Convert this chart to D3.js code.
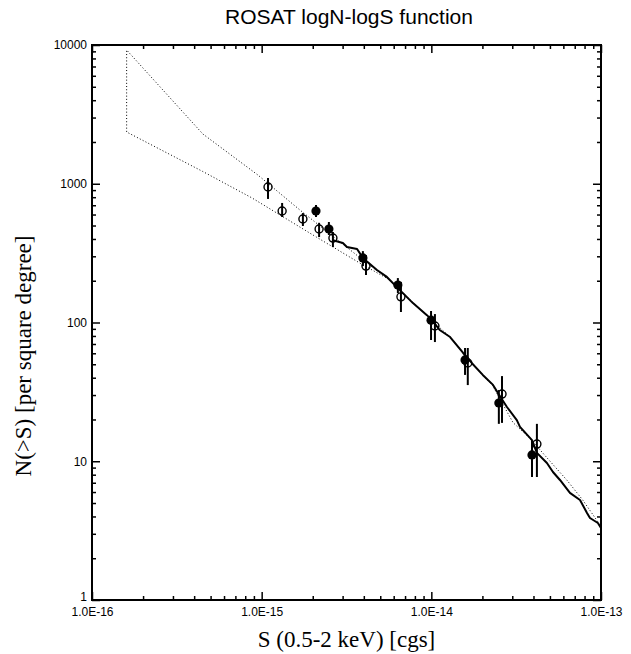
<!DOCTYPE html>
<html><head><meta charset="utf-8">
<script src="https://cdn.jsdelivr.net/npm/d3@7"></script>
<style>body{margin:0;background:#fff}svg{display:block}</style>
</head><body>
<svg id="c" width="631" height="654"></svg>
<script>
// ---- data ----
const xMajorTicks = [1e-16, 1e-15, 1e-14, 1e-13];
const yMajorTicks = [1, 10, 100, 1000, 10000];
const xTickLabels = ["1.0E-16", "1.0E-15", "1.0E-14", "1.0E-13"];
const yTickLabels = ["1", "10", "100", "1000", "10000"];

// open circles (survey 1)
const openS  = [1.09e-15, 1.32e-15, 1.75e-15, 2.18e-15, 2.63e-15, 4.12e-15, 6.62e-15, 1.05e-14, 1.64e-14, 2.61e-14, 4.19e-14];
const openN  = [948, 636, 557, 472, 406, 255, 153, 94.4, 51.1, 30.5, 13.3];
const openLo = [777, 576, 496, 413, 350, 220, 119, 72.3, 35.4, 18.9, 7.7];
const openHi = [1100, 727, 615, 523, 449, 306, 196, 115, 65.5, 41.1, 18.6];

// filled circles (survey 2)
const fillS  = [2.09e-15, 2.49e-15, 3.95e-15, 6.35e-15, 9.96e-15, 1.58e-14, 2.50e-14, 3.92e-14];
const fillN  = [636, 472, 292, 186, 104, 53.7, 26.3, 11.1];
const fillLo = [576, 427, 255, 163, 74.8, 41.9, 18.6, 7.7];
const fillHi = [703, 530, 327, 209, 121, 65.5, 32.6, 14.2];

// solid logN-logS curve
const curveS = [2.60e-15, 3.01e-15, 3.18e-15, 3.65e-15, 3.95e-15, 4.78e-15, 5.47e-15, 6.26e-15, 7.48e-15, 7.79e-15, 9.42e-15, 1.01e-14, 1.12e-14, 1.29e-14, 1.54e-14, 1.73e-14, 2.01e-14, 2.31e-14, 2.47e-14, 2.79e-14, 3.19e-14, 3.33e-14, 3.92e-14, 4.19e-14, 4.80e-14, 5.21e-14, 5.73e-14, 6.56e-14, 7.52e-14, 8.27e-14, 8.61e-14, 9.59e-14, 1.0e-13];
const curveN = [393, 374, 350, 339, 292, 239, 213, 180, 145, 138, 113, 104, 88.3, 78.6, 60.3, 51.1, 41.9, 35.5, 31.0, 24.6, 19.8, 17.7, 14.2, 11.5, 9.71, 8.37, 7.33, 5.91, 5.26, 4.24, 3.90, 3.59, 3.30];

// dotted model envelope
const upperS = [1.6e-16, 4.5e-16, 9.5e-16, 1.68e-15, 3.95e-15, 5.6e-15];
const upperN = [9200, 2284, 1156, 647, 282, 205];
const lowerS = [1.6e-16, 4.5e-16, 8.77e-16, 2.1e-15, 3.79e-15, 5.6e-15];
const lowerN = [2360, 1225, 790, 413, 268, 205];
const tailS  = [5.6e-15, 7.5e-15, 1.0e-14, 1.3e-14, 1.7e-14, 2.3e-14, 3.03e-14, 3.8e-14, 4.8e-14, 6.3e-14, 7.8e-14, 9.6e-14];
const tailN  = [205, 146, 104, 78, 52, 35, 19, 14.7, 10.6, 7.3, 5.26, 3.65];

// ---- drawing ----
const svg = d3.select("#c");
const L = 92, R = 601, T = 45, B = 600;
const x = d3.scaleLog().domain([1e-16, 1e-13]).range([L, R]);
const y = d3.scaleLog().domain([1, 10000]).range([B, T]);

function minors(lo, hi) {
  const out = [];
  for (let e = Math.log10(lo); e < Math.log10(hi); e++)
    for (let k = 2; k <= 9; k++) out.push(k * Math.pow(10, e));
  return out;
}
const xMinor = minors(1e-16, 1e-13), yMinor = minors(1, 10000);
const sans = "Liberation Sans, Arial, Helvetica, sans-serif";
const serif = "Liberation Serif, Times New Roman, serif";

function styleAxis(g) {
  g.select(".domain").remove();
  g.selectAll(".tick line").attr("stroke", "#000").attr("stroke-width", 1.5);
  g.selectAll("text").attr("font-family", sans).attr("font-size", 12).attr("fill", "#000");
}
// bottom
svg.append("g").attr("transform", `translate(0,${B})`)
  .call(d3.axisBottom(x).tickValues(xMajorTicks).tickSize(-8).tickPadding(7)
    .tickFormat((d, i) => xTickLabels[i])).call(styleAxis);
svg.append("g").attr("transform", `translate(0,${B})`)
  .call(d3.axisBottom(x).tickValues(xMinor).tickSize(-4).tickFormat("")).call(styleAxis);
// top
svg.append("g").attr("transform", `translate(0,${T})`)
  .call(d3.axisTop(x).tickValues(xMajorTicks).tickSize(-8).tickFormat("")).call(styleAxis);
svg.append("g").attr("transform", `translate(0,${T})`)
  .call(d3.axisTop(x).tickValues(xMinor).tickSize(-4).tickFormat("")).call(styleAxis);
// left
const yl = svg.append("g").attr("transform", `translate(${L},0)`)
  .call(d3.axisLeft(y).tickValues(yMajorTicks).tickSize(-8).tickPadding(5)
    .tickFormat((d, i) => yTickLabels[i])).call(styleAxis);
yl.selectAll(".tick text").filter(d => d === 1).attr("dy", "0.05em");
svg.append("g").attr("transform", `translate(${L},0)`)
  .call(d3.axisLeft(y).tickValues(yMinor).tickSize(-4).tickFormat("")).call(styleAxis);
// right
svg.append("g").attr("transform", `translate(${R},0)`)
  .call(d3.axisRight(y).tickValues(yMajorTicks).tickSize(-8).tickFormat("")).call(styleAxis);
svg.append("g").attr("transform", `translate(${R},0)`)
  .call(d3.axisRight(y).tickValues(yMinor).tickSize(-4).tickFormat("")).call(styleAxis);

// frame
svg.append("rect").attr("x", L).attr("y", T).attr("width", R - L).attr("height", B - T)
  .attr("fill", "none").attr("stroke", "#000").attr("stroke-width", 2);

const line = d3.line().x(d => x(d[0])).y(d => y(d[1]));

// dotted envelope: lower (reversed) -> left edge -> upper -> tail
const env = [];
for (let i = lowerS.length - 1; i >= 0; i--) env.push([lowerS[i], lowerN[i]]);
upperS.forEach((s, i) => env.push([s, upperN[i]]));
tailS.slice(1).forEach((s, i) => env.push([s, tailN[i + 1]]));
svg.append("path").attr("d", line(env)).attr("fill", "none")
  .attr("stroke", "#000").attr("stroke-width", 1).attr("stroke-dasharray", "1,2.2");

// solid curve
svg.append("path").attr("d", line(curveS.map((s, i) => [s, curveN[i]])))
  .attr("fill", "none").attr("stroke", "#000").attr("stroke-width", 2).attr("stroke-linejoin", "round");

// error bars
function bars(S, lo, hi) {
  svg.append("g").selectAll("line").data(S).join("line")
    .attr("x1", d => x(d)).attr("x2", d => x(d))
    .attr("y1", (d, i) => y(lo[i])).attr("y2", (d, i) => y(hi[i]))
    .attr("stroke", "#000").attr("stroke-width", 2);
}
bars(fillS, fillLo, fillHi);
bars(openS, openLo, openHi);

svg.append("g").selectAll("circle").data(fillS).join("circle")
  .attr("cx", d => x(d)).attr("cy", (d, i) => y(fillN[i])).attr("r", 4.6).attr("fill", "#000");
svg.append("g").selectAll("circle").data(openS).join("circle")
  .attr("cx", d => x(d)).attr("cy", (d, i) => y(openN[i])).attr("r", 4)
  .attr("fill", "none").attr("stroke", "#000").attr("stroke-width", 1.4);

// titles
svg.append("text").attr("x", 349).attr("y", 24).attr("text-anchor", "middle")
  .attr("font-family", sans).attr("font-size", 21).text("ROSAT logN-logS function");
svg.append("text").attr("x", (L + R) / 2).attr("y", 647).attr("text-anchor", "middle")
  .attr("font-family", serif).attr("font-size", 23).text("S (0.5-2 keV) [cgs]");
svg.append("text").attr("transform", "translate(31,356) rotate(-90)").attr("text-anchor", "middle")
  .attr("font-family", serif).attr("font-size", 23).text("N(>S) [per square degree]");
</script>
</body></html>
